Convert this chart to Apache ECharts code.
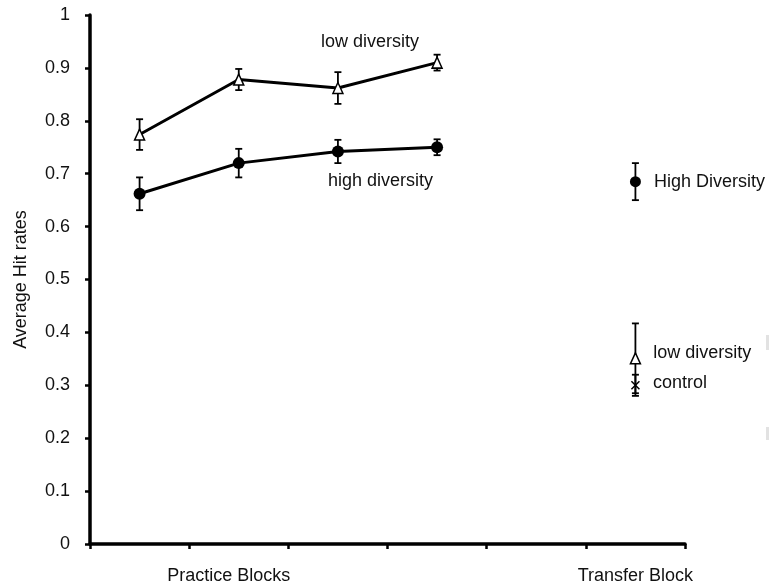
<!DOCTYPE html>
<html>
<head>
<meta charset="utf-8">
<script src="https://cdn.jsdelivr.net/npm/echarts@6/dist/echarts.min.js"></script>
<style>
html,body{margin:0;padding:0;background:#fff;}
#c{width:769px;height:586px;}
</style>
</head>
<body>
<div id="c"></div>
<script>
// ---- data ----
const categories = ['B1', 'B2', 'B3', 'B4', 'gap', 'T'];
const tickLabels = ['', 'Practice Blocks', '', '', '', 'Transfer Block'];
const yTicks = [0, 0.1, 0.2, 0.3, 0.4, 0.5, 0.6, 0.7, 0.8, 0.9, 1];

const lowPractice = [0.774, 0.878, 0.862, 0.910];
const lowPracticeErr = [0.029, 0.020, 0.030, 0.015];
const highPractice = [0.662, 0.720, 0.742, 0.750];
const highPracticeErr = [0.031, 0.027, 0.022, 0.015];

const transferIndex = 5;
const transferHigh = 0.685, transferHighErr = 0.035;
const transferLow = 0.351, transferLowErr = 0.066;
const transferControl = 0.300, transferControlErr = 0.020;

const seriesNames = ['low diversity', 'high diversity', 'High Diversity', 'low diversity', 'control'];

// ---- build ----
const FONT = 'Liberation Sans, Arial, sans-serif';
const TXT = '#111';
const errData = [];
lowPractice.forEach((v, i) => errData.push([i, v, lowPracticeErr[i]]));
highPractice.forEach((v, i) => errData.push([i, v, highPracticeErr[i]]));
errData.push([transferIndex, transferHigh, transferHighErr]);
errData.push([transferIndex, transferLow, transferLowErr]);
errData.push([transferIndex, transferControl, transferControlErr]);

const chart = echarts.init(document.getElementById('c'), null, {renderer: 'canvas'});

function lbl(text, dist, off) {
  return {show: true, position: 'right', distance: dist, offset: off, formatter: text,
          fontFamily: FONT, fontSize: 18, color: TXT, textBorderWidth: 0, opacity: 1};
}

const option = {
  backgroundColor: '#fff',
  animation: false,
  grid: {left: 90, top: 15, width: 595, height: 529, containLabel: false},
  xAxis: {
    type: 'category',
    data: categories,
    boundaryGap: true,
    axisLine: {show: true, lineStyle: {color: '#000', width: 3.5}},
    axisTick: {show: true, length: 5, lineStyle: {color: '#000', width: 2.5}},
    axisLabel: {
      show: true, interval: 0, margin: 23,
      fontFamily: FONT, fontSize: 18, color: TXT,
      formatter: function (v, i) {
        const t = tickLabels[i];
        if (!t) return '';
        return i === 1 ? '{p|' + t + '}' : t;
      },
      rich: {p: {fontFamily: FONT, fontSize: 18, color: TXT, padding: [0, 20, 0, 0]}}
    },
    splitLine: {show: false}
  },
  yAxis: {
    type: 'value',
    min: yTicks[0], max: yTicks[yTicks.length - 1], interval: 0.1,
    name: 'Average Hit rates',
    nameLocation: 'middle', nameRotate: 90, nameGap: 60,
    nameTextStyle: {fontFamily: FONT, fontSize: 18, color: TXT},
    axisLine: {show: true, lineStyle: {color: '#000', width: 3.5}},
    axisTick: {show: true, length: 5, lineStyle: {color: '#000', width: 2.5}},
    axisLabel: {
      margin: 20, fontFamily: FONT, fontSize: 18, color: TXT,
      formatter: function (v) { return (Math.round(v * 10) / 10).toString(); }
    },
    splitLine: {show: false}
  },
  series: [
    {
      type: 'custom',
      name: 'errorbars',
      data: errData,
      z: 1,
      renderItem: function (params, api) {
        const x = api.value(0), y = api.value(1), e = api.value(2);
        const top = api.coord([x, y + e]);
        const bot = api.coord([x, y - e]);
        const hw = 3.5;
        const st = {stroke: '#000', lineWidth: 1.8};
        return {
          type: 'group',
          children: [
            {type: 'line', shape: {x1: top[0], y1: top[1], x2: bot[0], y2: bot[1]}, style: st},
            {type: 'line', shape: {x1: top[0] - hw, y1: top[1], x2: top[0] + hw, y2: top[1]}, style: st},
            {type: 'line', shape: {x1: bot[0] - hw, y1: bot[1], x2: bot[0] + hw, y2: bot[1]}, style: st}
          ]
        };
      }
    },
    {
      type: 'line', name: seriesNames[0], data: lowPractice, z: 3,
      symbol: 'triangle', symbolSize: [10, 11],
      lineStyle: {color: '#000', width: 3},
      itemStyle: {color: '#fff', borderColor: '#000', borderWidth: 1.5}
    },
    {
      type: 'line', name: seriesNames[1], data: highPractice, z: 3,
      symbol: 'circle', symbolSize: 12,
      lineStyle: {color: '#000', width: 3},
      itemStyle: {color: '#000', borderColor: '#000', borderWidth: 0}
    },
    {
      type: 'scatter', name: seriesNames[2], z: 3,
      data: [[transferIndex, transferHigh]],
      symbol: 'circle', symbolSize: 11,
      itemStyle: {color: '#000', opacity: 1},
      label: lbl(seriesNames[2], 13, [0, 0])
    },
    {
      type: 'scatter', name: seriesNames[3], z: 3,
      data: [[transferIndex, transferLow]],
      symbol: 'triangle', symbolSize: [10, 11],
      itemStyle: {color: '#fff', borderColor: '#000', borderWidth: 1.5, opacity: 1},
      label: lbl(seriesNames[3], 12, [0, -5])
    },
    {
      type: 'scatter', name: seriesNames[4], z: 3,
      data: [[transferIndex, transferControl]],
      symbol: 'path://M0,0L10,10M10,0L0,10', symbolSize: 8,
      itemStyle: {color: 'none', borderColor: '#000', borderWidth: 1.5, opacity: 1},
      label: lbl(seriesNames[4], 11, [0, -2])
    }
  ],
  graphic: [
    {type: 'text', left: 321, top: 33, style: {text: 'low diversity', font: '18px ' + FONT, fill: TXT}},
    {type: 'text', left: 328, top: 172, style: {text: 'high diversity', font: '18px ' + FONT, fill: TXT}},
    {type: 'rect', left: 766, top: 335, shape: {width: 3, height: 15}, style: {fill: '#e2e2e2'}},
    {type: 'rect', left: 766, top: 427, shape: {width: 3, height: 13}, style: {fill: '#e2e2e2'}}
  ]
};
chart.setOption(option);
</script>
</body>
</html>
